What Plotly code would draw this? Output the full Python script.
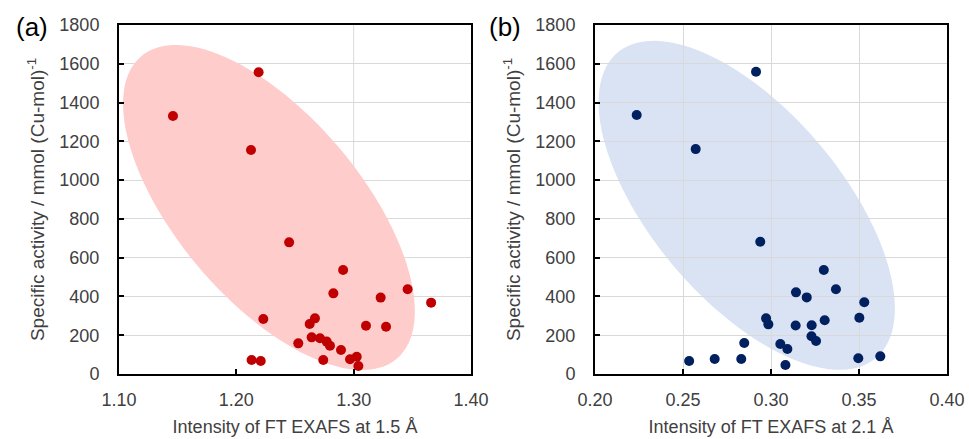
import numpy as np
import plotly.graph_objects as go

# ---------------- data ----------------
# panel (a): intensity of FT EXAFS at 1.5 A vs specific activity
x_a = [1.219, 1.146, 1.2125, 1.245, 1.291, 1.2827, 1.346, 1.323, 1.366, 1.223,
       1.267, 1.2625, 1.3105, 1.3276, 1.2642, 1.2713, 1.2528, 1.277, 1.2798, 1.2892,
       1.2741, 1.2969, 1.3026, 1.304, 1.213, 1.2208]
y_a = [1556, 1331, 1155, 679, 536, 416, 437, 394, 368, 284,
       287, 258, 249, 244, 189, 184, 158, 167, 146, 124,
       72, 76, 89, 41, 72, 67]

# panel (b): intensity of FT EXAFS at 2.1 A vs specific activity
x_b = [0.2915, 0.2237, 0.2572, 0.2939, 0.3300, 0.3142, 0.3203, 0.3369, 0.3530, 0.3502,
       0.2972, 0.2985, 0.3140, 0.3231, 0.3305, 0.3230, 0.3256, 0.2848, 0.3053, 0.3093,
       0.2535, 0.2680, 0.2831, 0.3082, 0.3496, 0.3621]
y_b = [1559, 1336, 1160, 682, 536, 421, 395, 437, 370, 290,
       287, 256, 250, 251, 277, 195, 170, 160, 155, 129,
       67, 77, 77, 46, 81, 91]

x_ticks_a = [1.10, 1.20, 1.30, 1.40]
x_ticklabels_a = ["1.10", "1.20", "1.30", "1.40"]
x_ticks_b = [0.20, 0.25, 0.30, 0.35, 0.40]
x_ticklabels_b = ["0.20", "0.25", "0.30", "0.35", "0.40"]
y_ticks = [0, 200, 400, 600, 800, 1000, 1200, 1400, 1600, 1800]
grid_x_a = [1.30]

x_title_a = "Intensity of FT EXAFS at 1.5 Å"
x_title_b = "Intensity of FT EXAFS at 2.1 Å"
y_title = "Specific activity / mmol (Cu-mol)<sup>-1</sup>"

# ---------------- layout geometry ----------------
W, H = 969, 439
plot_w, plot_h = 352, 349
dom_a = [119 / W, 471 / W]
dom_b = [595 / W, 947 / W]
dom_y = [65 / H, 414 / H]
range_a = [1.10, 1.40]
range_b = [0.20, 0.40]
range_y = [0, 1800]

FONT = "Liberation Sans, Arial, sans-serif"
TXT = "#404040"


def ellipse_path(cx, cy, a_px, b_px, ang_deg, xr, yr):
    t = np.linspace(0, 2 * np.pi, 120)
    th = np.radians(ang_deg)
    ux, uy = a_px * np.cos(t), b_px * np.sin(t)
    dx = ux * np.cos(th) - uy * np.sin(th)
    dy = ux * np.sin(th) + uy * np.cos(th)
    xs = cx + dx * (xr[1] - xr[0]) / plot_w
    ys = cy - dy * (yr[1] - yr[0]) / plot_h
    pts = [f"{x:.5f},{y:.3f}" for x, y in zip(xs, ys)]
    return "M " + " L ".join(pts) + " Z"


fig = go.Figure()
fig.add_trace(go.Scatter(x=x_a, y=y_a, mode="markers", xaxis="x", yaxis="y",
                         marker=dict(color="#C00000", size=10), showlegend=False))
fig.add_trace(go.Scatter(x=x_b, y=y_b, mode="markers", xaxis="x2", yaxis="y2",
                         marker=dict(color="#002060", size=10), showlegend=False))

shapes = [
    dict(type="path", xref="x", yref="y", layer="between",
         path=ellipse_path(1.2278, 858.7, 198, 92.2, 49.8, range_a, range_y),
         fillcolor="#FFCCCC", line=dict(width=0)),
    dict(type="path", xref="x2", yref="y2", layer="below",
         path=ellipse_path(0.2862, 870, 200, 95, 49.75, range_b, range_y),
         fillcolor="#DAE3F3", line=dict(width=0)),
]
for gx in grid_x_a:
    shapes.append(dict(type="line", xref="x", yref="y domain", layer="below",
                       x0=gx, x1=gx, y0=0, y1=1, line=dict(color="#D9D9D9", width=1)))

common_axis = dict(showline=True, linecolor="black", linewidth=2, mirror=True,
                   ticks="inside", ticklen=5, tickwidth=2, tickcolor="black",
                   tickfont=dict(family=FONT, size=18, color=TXT),
                   gridcolor="#D9D9D9", gridwidth=1, zeroline=False, automargin=False)

fig.update_layout(
    width=W, height=H, autosize=False,
    margin=dict(l=0, r=0, t=0, b=0),
    paper_bgcolor="white", plot_bgcolor="white",
    shapes=shapes,
    xaxis=dict(domain=dom_a, range=range_a, tickvals=x_ticks_a, ticktext=x_ticklabels_a,
               showgrid=False, anchor="y", ticklabelstandoff=8,
               title=dict(text=x_title_a, font=dict(family=FONT, size=18, color=TXT), standoff=12),
               **common_axis),
    yaxis=dict(domain=dom_y, range=range_y, tickvals=y_ticks, showgrid=True, anchor="x",
               ticklabelstandoff=14,
               title=dict(text=y_title, font=dict(family=FONT, size=19, color=TXT), standoff=10),
               **common_axis),
    xaxis2=dict(domain=dom_b, range=range_b, tickvals=x_ticks_b, ticktext=x_ticklabels_b,
                showgrid=True, anchor="y2", ticklabelstandoff=8,
                title=dict(text=x_title_b, font=dict(family=FONT, size=18, color=TXT), standoff=12),
                **common_axis),
    yaxis2=dict(domain=dom_y, range=range_y, tickvals=y_ticks, showgrid=True, anchor="x2",
                ticklabelstandoff=14,
                title=dict(text=y_title, font=dict(family=FONT, size=19, color=TXT), standoff=10),
                **common_axis),
    annotations=[
        dict(text="(a)", x=32 / W, y=1 - 27 / H, xref="paper", yref="paper",
             showarrow=False, font=dict(family=FONT, size=26, color="black"),
             xanchor="center", yanchor="middle"),
        dict(text="(b)", x=505 / W, y=1 - 27 / H, xref="paper", yref="paper",
             showarrow=False, font=dict(family=FONT, size=26, color="black"),
             xanchor="center", yanchor="middle"),
    ],
)

fig.write_html(
    "out.html",
    config={"displayModeBar": False},
    post_script="document.body.style.margin='0';document.body.style.overflow='hidden';",
)
